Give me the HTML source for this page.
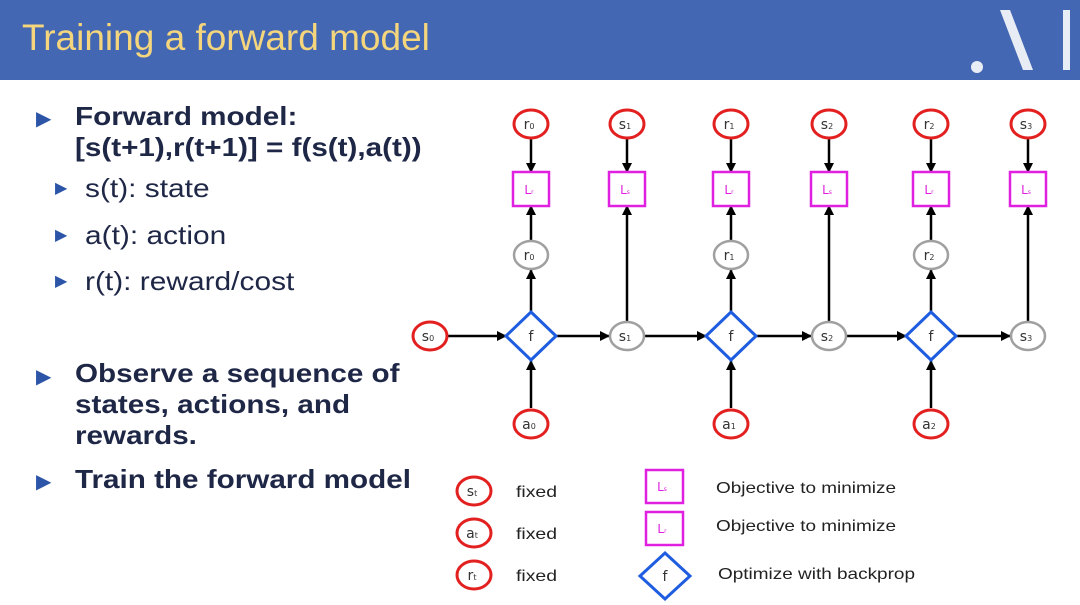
<!DOCTYPE html><html><head><style>
body{margin:0;width:1080px;height:605px;background:#fff;position:relative;overflow:hidden;font-family:"Liberation Sans",sans-serif}
.hd{position:absolute;left:0;top:0;width:1080px;height:80px;background:#4467b3}
.t{position:absolute;left:22px;top:17px;font-size:37px;color:#f5d67c}
.b{position:absolute;color:#1f2747;font-weight:bold;font-size:26px;line-height:31px;transform:scaleX(1.14);transform-origin:0 0;white-space:nowrap}
.s{position:absolute;color:#1f2747;font-size:26px;transform:scaleX(1.15);transform-origin:0 0;white-space:nowrap}
.tri{color:#2c55a8;font-size:20px;position:absolute}
</style></head><body>
<div class="hd"></div><div class="t">Training a forward model</div>
<svg style="position:absolute;left:0;top:0" width="1080" height="80"><circle cx="977" cy="67" r="6" fill="#e8ecf5"/><polygon points="1000,10 1010,10 1033,70 1023,70" fill="#e8ecf5"/><rect x="1063" y="10" width="7" height="60" fill="#e8ecf5"/></svg>
<span class="tri" style="left:36px;top:106px">▶</span><div class="b" style="left:75px;top:101px">Forward model:<br>[s(t+1),r(t+1)] = f(s(t),a(t))</div>
<span class="tri" style="left:55px;top:178px;font-size:16px">▶</span><div class="s" style="left:85px;top:173px">s(t): state</div>
<span class="tri" style="left:55px;top:225px;font-size:16px">▶</span><div class="s" style="left:85px;top:220px">a(t): action</div>
<span class="tri" style="left:55px;top:271px;font-size:16px">▶</span><div class="s" style="left:85px;top:266px">r(t): reward/cost</div>
<span class="tri" style="left:36px;top:364px">▶</span><div class="b" style="left:75px;top:358px">Observe a sequence of<br>states, actions, and<br>rewards.</div>
<span class="tri" style="left:36px;top:469px">▶</span><div class="b" style="left:75px;top:464px">Train the forward model</div>
<svg style="position:absolute;left:0;top:0" width="1080" height="605" font-family="DejaVu Sans, sans-serif">
<defs><marker id="a" markerWidth="10" markerHeight="10" refX="9" refY="5" orient="auto" markerUnits="userSpaceOnUse"><path d="M0,0L10,5L0,10z" fill="#000"/></marker></defs>
<g stroke="#000" stroke-width="2.5" fill="none" marker-end="url(#a)">
<line x1="448" y1="336" x2="506" y2="336"/><line x1="556" y1="336" x2="609" y2="336"/><line x1="645" y1="336" x2="706" y2="336"/><line x1="756" y1="336" x2="811" y2="336"/><line x1="847" y1="336" x2="906" y2="336"/><line x1="956" y1="336" x2="1010" y2="336"/>
<line x1="531" y1="408" x2="531" y2="361"/><line x1="731" y1="408" x2="731" y2="361"/><line x1="931" y1="408" x2="931" y2="361"/>
<line x1="531" y1="311" x2="531" y2="270"/><line x1="731" y1="311" x2="731" y2="270"/><line x1="931" y1="311" x2="931" y2="270"/>
<line x1="531" y1="240" x2="531" y2="206"/><line x1="731" y1="240" x2="731" y2="206"/><line x1="931" y1="240" x2="931" y2="206"/>
<line x1="627" y1="321" x2="627" y2="206"/><line x1="829" y1="321" x2="829" y2="206"/><line x1="1028" y1="321" x2="1028" y2="206"/>
<line x1="531" y1="138" x2="531" y2="172"/><line x1="627" y1="138" x2="627" y2="172"/><line x1="731" y1="138" x2="731" y2="172"/><line x1="829" y1="138" x2="829" y2="172"/><line x1="931" y1="138" x2="931" y2="172"/><line x1="1028" y1="138" x2="1028" y2="172"/>
</g>
<g stroke="#e32020" stroke-width="3" fill="#fff">
<ellipse cx="531" cy="124" rx="17" ry="14"/><ellipse cx="627" cy="124" rx="17" ry="14"/><ellipse cx="731" cy="124" rx="17" ry="14"/><ellipse cx="829" cy="124" rx="17" ry="14"/><ellipse cx="931" cy="124" rx="17" ry="14"/><ellipse cx="1028" cy="124" rx="17" ry="14"/>
<ellipse cx="430" cy="336" rx="17" ry="14"/><ellipse cx="531" cy="424" rx="17" ry="14"/><ellipse cx="731" cy="424" rx="17" ry="14"/><ellipse cx="931" cy="424" rx="17" ry="14"/>
<ellipse cx="474" cy="491" rx="17" ry="14"/><ellipse cx="474" cy="533" rx="17" ry="14"/><ellipse cx="474" cy="575" rx="17" ry="14"/>
</g>
<g stroke="#a0a0a0" stroke-width="2.5" fill="#fff">
<ellipse cx="531" cy="255" rx="17" ry="14"/><ellipse cx="731" cy="255" rx="17" ry="14"/><ellipse cx="931" cy="255" rx="17" ry="14"/>
<ellipse cx="627" cy="336" rx="17" ry="14"/><ellipse cx="829" cy="336" rx="17" ry="14"/><ellipse cx="1028" cy="336" rx="17" ry="14"/>
</g>
<g stroke="#e020e0" stroke-width="2.5" fill="#fff">
<rect x="513" y="172" width="36" height="34"/><rect x="609" y="172" width="36" height="34"/><rect x="713" y="172" width="36" height="34"/><rect x="811" y="172" width="36" height="34"/><rect x="913" y="172" width="36" height="34"/><rect x="1010" y="172" width="36" height="34"/>
<rect x="646" y="470" width="37" height="33"/><rect x="646" y="512" width="37" height="33"/>
</g>
<g stroke="#1f5de0" stroke-width="3" fill="#fff">
<path d="M531,312L556,336L531,360L506,336z"/><path d="M731,312L756,336L731,360L706,336z"/><path d="M931,312L956,336L931,360L906,336z"/><path d="M665,553L690,576L665,599L640,576z"/>
</g>
<g font-size="14" fill="#333" text-anchor="middle">
<text x="529" y="129">r<tspan font-size="8">0</tspan></text><text x="625" y="129">s<tspan font-size="8">1</tspan></text><text x="729" y="129">r<tspan font-size="8">1</tspan></text><text x="827" y="129">s<tspan font-size="8">2</tspan></text><text x="929" y="129">r<tspan font-size="8">2</tspan></text><text x="1026" y="129">s<tspan font-size="8">3</tspan></text>
<text x="529" y="260">r<tspan font-size="8">0</tspan></text><text x="729" y="260">r<tspan font-size="8">1</tspan></text><text x="929" y="260">r<tspan font-size="8">2</tspan></text>
<text x="428" y="341">s<tspan font-size="8">0</tspan></text><text x="625" y="341">s<tspan font-size="8">1</tspan></text><text x="827" y="341">s<tspan font-size="8">2</tspan></text><text x="1026" y="341">s<tspan font-size="8">3</tspan></text>
<text x="529" y="429">a<tspan font-size="8">0</tspan></text><text x="729" y="429">a<tspan font-size="8">1</tspan></text><text x="929" y="429">a<tspan font-size="8">2</tspan></text>
<text x="531" y="341">f</text><text x="731" y="341">f</text><text x="931" y="341">f</text><text x="665" y="581">f</text>
<text x="472" y="496">s<tspan font-size="8">t</tspan></text><text x="472" y="538">a<tspan font-size="8">t</tspan></text><text x="472" y="580">r<tspan font-size="8">t</tspan></text>
</g>
<g font-size="12" fill="#e020e0" text-anchor="middle">
<text x="529" y="194">L<tspan font-size="6">r</tspan></text><text x="625" y="194">L<tspan font-size="6">s</tspan></text><text x="729" y="194">L<tspan font-size="6">r</tspan></text><text x="827" y="194">L<tspan font-size="6">s</tspan></text><text x="929" y="194">L<tspan font-size="6">r</tspan></text><text x="1026" y="194">L<tspan font-size="6">s</tspan></text>
<text x="662" y="491">L<tspan font-size="6">s</tspan></text><text x="662" y="533">L<tspan font-size="6">r</tspan></text>
</g>
<g font-family="Liberation Sans, sans-serif" font-size="16" fill="#222">
<text x="516" y="497" textLength="41" lengthAdjust="spacingAndGlyphs">fixed</text><text x="516" y="539" textLength="41" lengthAdjust="spacingAndGlyphs">fixed</text><text x="516" y="581" textLength="41" lengthAdjust="spacingAndGlyphs">fixed</text>
<text x="716" y="493" textLength="180" lengthAdjust="spacingAndGlyphs">Objective to minimize</text><text x="716" y="531" textLength="180" lengthAdjust="spacingAndGlyphs">Objective to minimize</text><text x="718" y="579" textLength="197" lengthAdjust="spacingAndGlyphs">Optimize with backprop</text>
</g>
</svg>
</body></html>
